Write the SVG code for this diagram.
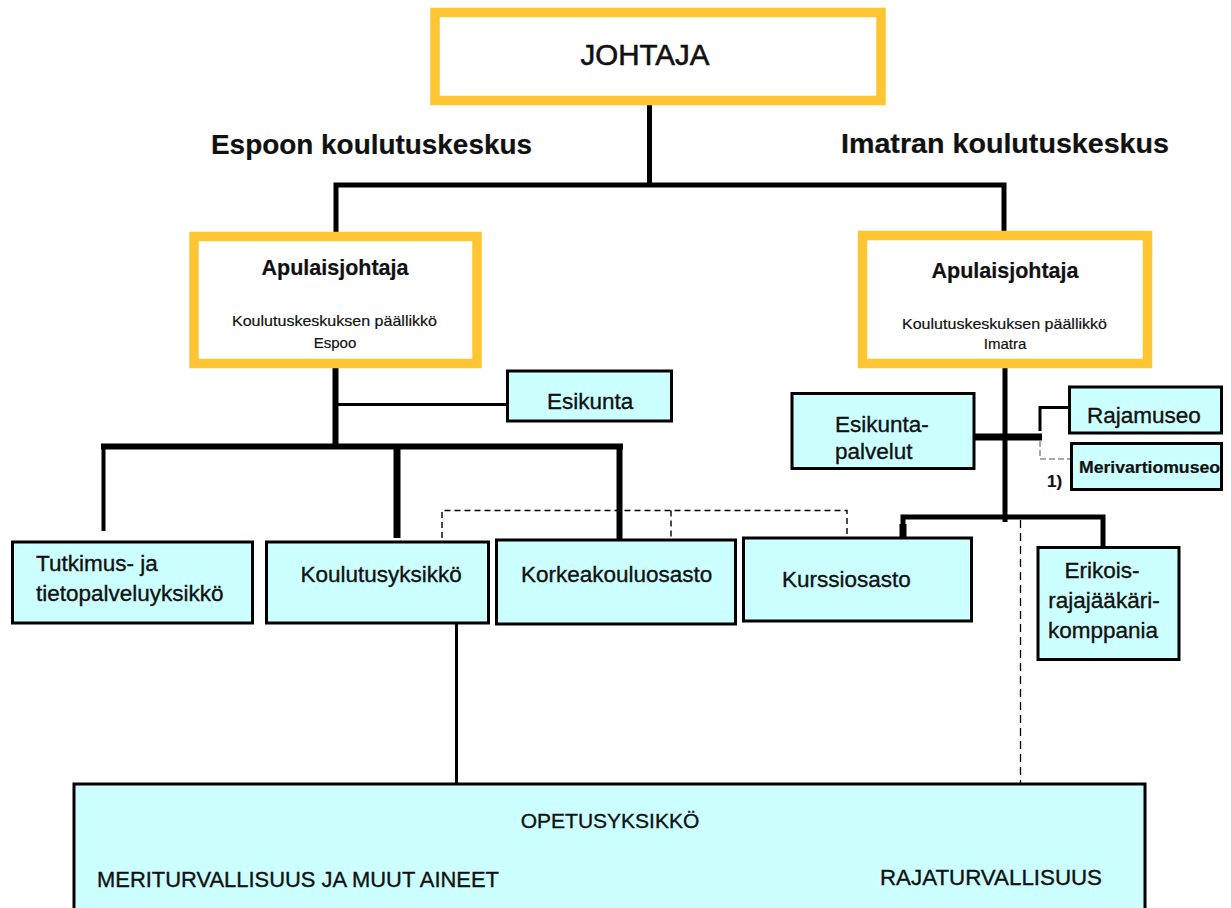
<svg xmlns="http://www.w3.org/2000/svg" width="1231" height="908" viewBox="0 0 1231 908">
<style>
.y{fill:#fff;stroke:#FFC533;stroke-width:9.5}
.c{fill:#CCFFFF;stroke:#000;stroke-width:3}
.t{font-family:"Liberation Sans",Arial,sans-serif;font-size:22.5px;fill:#111;stroke:#111;stroke-width:0.35}
.b{font-weight:bold;stroke-width:0.2}
.m{text-anchor:middle}
.k{stroke:#000;fill:none;stroke-linecap:butt}
.d{stroke:#000;stroke-width:1.4;fill:none;stroke-dasharray:6 4}
</style>
<rect width="1231" height="908" fill="#fff"/>
<g id="connectors">
  <line class="k" x1="649.5" y1="104" x2="649.5" y2="187" stroke-width="5"/>
  <polyline class="k" points="336,235 336,185 1004,185 1004,235" stroke-width="5"/>
  <line class="k" x1="335.5" y1="366" x2="335.5" y2="449" stroke-width="6"/>
  <line class="k" x1="335" y1="404.5" x2="508" y2="404.5" stroke-width="3"/>
  <line class="k" x1="101" y1="446.5" x2="623" y2="446.5" stroke-width="6"/>
  <line class="k" x1="103.5" y1="446" x2="103.5" y2="531" stroke-width="4"/>
  <line class="k" x1="397" y1="446" x2="397" y2="538" stroke-width="7"/>
  <line class="k" x1="619.5" y1="446" x2="619.5" y2="540" stroke-width="6"/>
  <polyline class="d" points="442,538 442,510.5 847,510.5 847,537"/>
  <line class="d" x1="671" y1="510.5" x2="671" y2="537"/>
  <line class="k" x1="1005" y1="366" x2="1005" y2="522" stroke-width="5"/>
  <line class="k" x1="973" y1="437" x2="1042" y2="437" stroke-width="7"/>
  <polyline class="k" points="1040,431 1040,407.5 1070,407.5" stroke-width="3"/>
  <polyline points="1040,441 1040,459 1072,459" fill="none" stroke="#aaa" stroke-width="2" stroke-dasharray="6 3"/>
  <polyline class="k" points="903,538 903,517 1103,517 1103,548" stroke-width="5"/>
  <line class="k" x1="903" y1="524" x2="903" y2="538" stroke-width="7"/>
  <line x1="1020.5" y1="520" x2="1020.5" y2="783" stroke="#000" stroke-width="1.3" stroke-dasharray="8 5"/>
  <line class="k" x1="456.5" y1="622" x2="456.5" y2="784" stroke-width="3"/>
</g>
<g id="johtaja">
  <rect class="y" x="435" y="12.5" width="446" height="88"/>
  <text class="t m" x="645" y="65" style="font-size:29.5px;stroke-width:0.6">JOHTAJA</text>
</g>
<g id="label-espoo">
  <text class="t b" x="211" y="154" style="font-size:27px" textLength="321" lengthAdjust="spacingAndGlyphs">Espoon koulutuskeskus</text>
</g>
<g id="label-imatra">
  <text class="t b" x="841" y="153" style="font-size:27px" textLength="328" lengthAdjust="spacingAndGlyphs">Imatran koulutuskeskus</text>
</g>
<g id="apulais-espoo">
  <rect class="y" x="194" y="236.5" width="283" height="127"/>
  <text class="t b m" x="335" y="275" style="font-size:21.5px">Apulaisjohtaja</text>
  <text class="t" x="232" y="326" style="font-size:15px;stroke-width:0.2" textLength="205" lengthAdjust="spacingAndGlyphs">Koulutuskeskuksen päällikkö</text>
  <text class="t m" x="335" y="348" style="font-size:15px;stroke-width:0.2">Espoo</text>
</g>
<g id="apulais-imatra">
  <rect class="y" x="862.5" y="235.5" width="285" height="128"/>
  <text class="t b m" x="1005" y="278" style="font-size:21.5px">Apulaisjohtaja</text>
  <text class="t" x="902" y="329" style="font-size:15px;stroke-width:0.2" textLength="205" lengthAdjust="spacingAndGlyphs">Koulutuskeskuksen päällikkö</text>
  <text class="t m" x="1005" y="349" style="font-size:15px;stroke-width:0.2">Imatra</text>
</g>
<g id="esikunta">
  <rect class="c" x="507.5" y="371" width="164" height="50"/>
  <text class="t" x="547" y="409">Esikunta</text>
</g>
<g id="tutkimus">
  <rect class="c" x="12.5" y="542" width="240" height="81"/>
  <text class="t" x="36" y="571">Tutkimus- ja</text>
  <text class="t" x="36" y="601">tietopalveluyksikkö</text>
</g>
<g id="koulutusyksikko">
  <rect class="c" x="266.5" y="542" width="222" height="81"/>
  <text class="t" x="300.5" y="582">Koulutusyksikkö</text>
</g>
<g id="korkeakouluosasto">
  <rect class="c" x="496.5" y="540" width="239" height="84"/>
  <text class="t" x="521" y="582">Korkeakouluosasto</text>
</g>
<g id="kurssiosasto">
  <rect class="c" x="743.5" y="538" width="228" height="83"/>
  <text class="t" x="782" y="587">Kurssiosasto</text>
</g>
<g id="esikuntapalvelut">
  <rect class="c" x="792" y="393.5" width="182" height="75"/>
  <text class="t" x="835" y="432">Esikunta-</text>
  <text class="t" x="835" y="459">palvelut</text>
</g>
<g id="rajamuseo">
  <rect class="c" x="1069.5" y="387" width="152" height="46"/>
  <text class="t" x="1087" y="423">Rajamuseo</text>
</g>
<g id="merivartiomuseo">
  <rect class="c" x="1071.5" y="443.5" width="150" height="46"/>
  <text class="t b" x="1079" y="473" style="font-size:16px" textLength="141" lengthAdjust="spacingAndGlyphs">Merivartiomuseo</text>
  <text class="t b" x="1047" y="487" style="font-size:17px">1)</text>
</g>
<g id="erikois">
  <rect class="c" x="1038" y="547.5" width="141" height="112"/>
  <text class="t m" x="1102" y="578">Erikois-</text>
  <text class="t m" x="1104" y="608">rajajääkäri-</text>
  <text class="t m" x="1103" y="638">komppania</text>
</g>
<g id="opetusyksikko">
  <rect class="c" x="74" y="784" width="1071" height="140"/>
  <text class="t m" x="610" y="828" style="font-size:21px">OPETUSYKSIKKÖ</text>
  <text class="t" x="97" y="887" style="font-size:22px" textLength="402" lengthAdjust="spacingAndGlyphs">MERITURVALLISUUS JA MUUT AINEET</text>
  <text class="t" x="880" y="885" style="font-size:22px" textLength="222" lengthAdjust="spacingAndGlyphs">RAJATURVALLISUUS</text>
</g>
</svg>
